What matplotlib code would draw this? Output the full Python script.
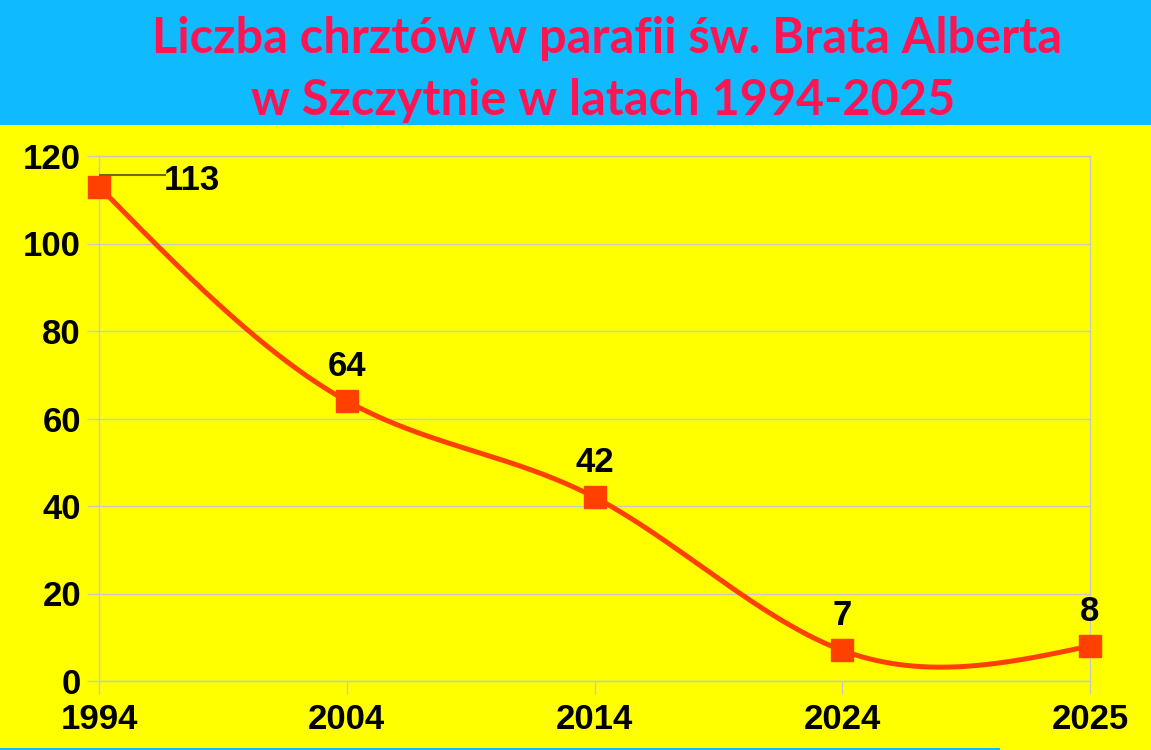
import numpy as np
import matplotlib.pyplot as plt
from matplotlib.patches import Rectangle

years = ["1994", "2004", "2014", "2024", "2025"]
baptisms = [113, 64, 42, 7, 8]
y_ticks = [0, 20, 40, 60, 80, 100, 120]
title_lines = ["Liczba chrztów w parafii św. Brata Alberta", "w Szczytnie w latach 1994-2025"]

line_color = "#FF4000"
bg_yellow = "#FFFF00"
band_cyan = "#10BAFF"
grid_color = "#C8C8C8"


def natural_spline(xs, ys, num=400):
	# natural cubic spline, like the smoothed line of the original chart
	xs = np.asarray(xs, float)
	ys = np.asarray(ys, float)
	n = len(xs)
	h = np.diff(xs)
	A = np.zeros((n, n))
	b = np.zeros(n)
	A[0, 0] = 1
	A[-1, -1] = 1
	for i in range(1, n - 1):
		A[i, i - 1] = h[i - 1]
		A[i, i] = 2 * (h[i - 1] + h[i])
		A[i, i + 1] = h[i]
		b[i] = 3 * ((ys[i + 1] - ys[i]) / h[i] - (ys[i] - ys[i - 1]) / h[i - 1])
	c = np.linalg.solve(A, b)
	xx = np.linspace(xs[0], xs[-1], num)
	yy = np.empty_like(xx)
	for k, x in enumerate(xx):
		i = min(np.searchsorted(xs, x, side="right") - 1, n - 2)
		bi = (ys[i + 1] - ys[i]) / h[i] - h[i] * (2 * c[i] + c[i + 1]) / 3
		di = (c[i + 1] - c[i]) / (3 * h[i])
		t = x - xs[i]
		yy[k] = ys[i] + bi * t + c[i] * t**2 + di * t**3
	return xx, yy


fig = plt.figure(figsize=(11.51, 7.5), dpi=100)
fig.patch.set_facecolor(bg_yellow)

# cyan band behind the title
fig.patches.append(Rectangle((0, 1 - 125 / 750), 1, 125 / 750, transform=fig.transFigure,
							 facecolor=band_cyan, edgecolor="none", zorder=0))
fig.patches.append(Rectangle((0, 0), 1000 / 1151, 2 / 750, transform=fig.transFigure,
							 facecolor=band_cyan, edgecolor="none", zorder=0))

title_kw = dict(ha="center", va="baseline", color="#FF1452", fontsize=35,
				fontweight="bold", family=["Lato", "DejaVu Sans"])
fig.text(607 / 1151, 1 - 53 / 750, title_lines[0], **title_kw)
fig.text(603 / 1151, 1 - 115 / 750, title_lines[1], **title_kw)

ax = fig.add_axes([99 / 1151, 1 - 681 / 750, (1090 - 99) / 1151, (681 - 156) / 750])
ax.set_facecolor(bg_yellow)

x = np.arange(len(years))
sx, sy = natural_spline(x, baptisms)
ax.plot(sx, sy, color=line_color, lw=3.6, zorder=3, solid_capstyle="round")
ax.plot(x, baptisms, ls="none", marker="s", ms=16, color=line_color, zorder=4, clip_on=False)

ax.set_xlim(0, len(years) - 1)
ax.set_ylim(0, 120)
ax.set_xticks(x)
ax.set_xticklabels(years)
ax.set_yticks(y_ticks)
ax.grid(axis="y", color=grid_color, lw=1)
for s in ax.spines.values():
	s.set_color(grid_color)
	s.set_linewidth(1)
ax.tick_params(colors=grid_color, length=9, width=1, labelcolor="black", labelsize=25)
for lab in ax.get_xticklabels() + ax.get_yticklabels():
	lab.set_fontweight("bold")
	lab.set_family("Liberation Sans")
ax.tick_params(axis="x", pad=7)
ax.tick_params(axis="y", pad=4)

# data labels
lab_kw = dict(fontsize=25, fontweight="bold", family="Liberation Sans", color="black")
ax.annotate(str(baptisms[0]), xy=(x[0], 114.5), xytext=(65, 0), textcoords="offset pixels",
			ha="left", va="center", **lab_kw, zorder=5)
ax.plot([x[0], x[0] + 0.265], [115.7, 115.7], color="#6E6E00", lw=1.5, zorder=5)
for xi, v in zip(x[1:], baptisms[1:]):
	ax.annotate(str(v), xy=(xi, v), xytext=(0, 18), textcoords="offset pixels",
				ha="center", va="bottom", **lab_kw, zorder=5)

fig.savefig("out.png", dpi=100, facecolor=fig.get_facecolor())
